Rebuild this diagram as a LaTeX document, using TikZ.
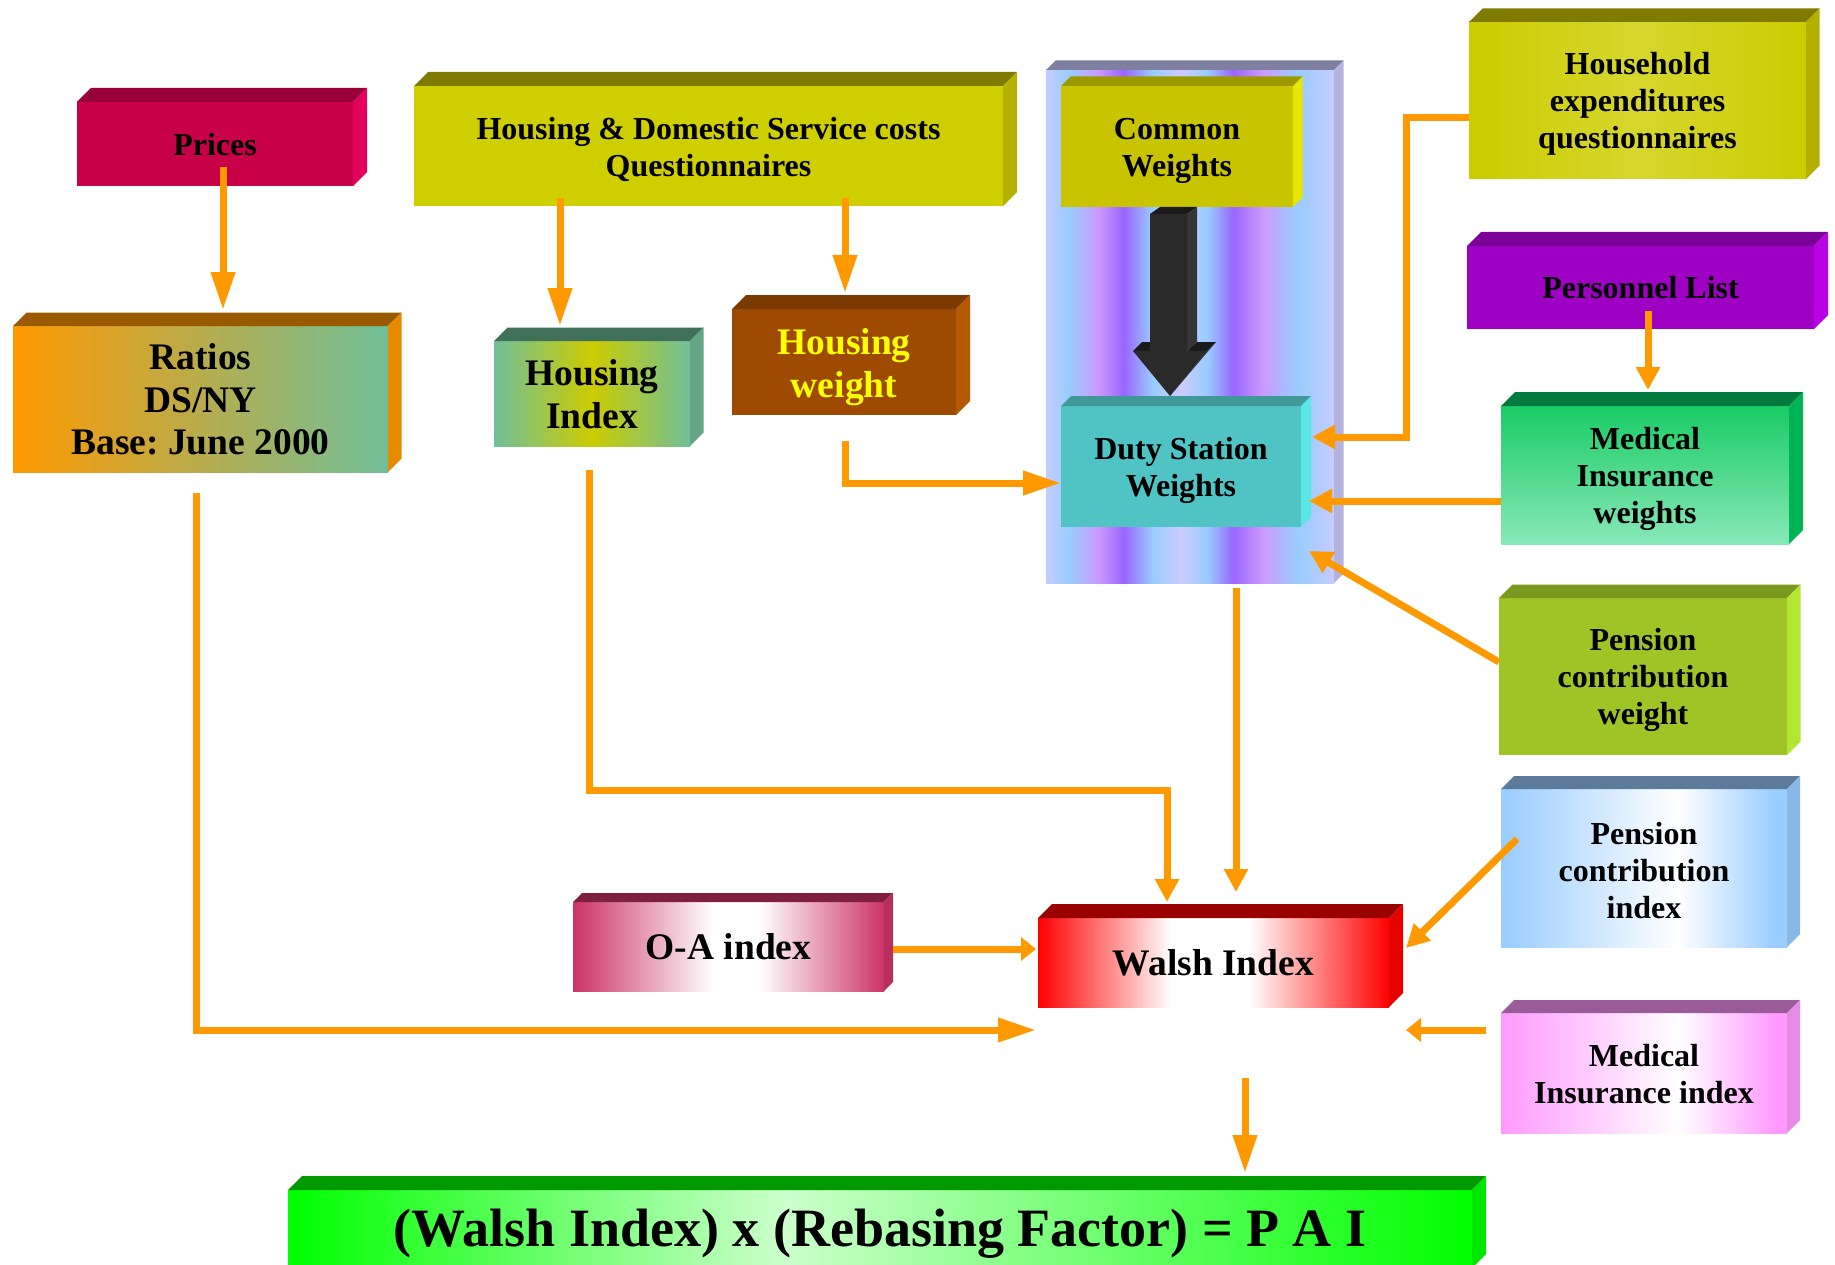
\documentclass[tikz,border=0pt]{standalone}
\usepackage{fontspec}
\setmainfont{Liberation Serif}
\usetikzlibrary{arrows.meta}
\frenchspacing
\definecolor{orA}{HTML}{FF9900}
\definecolor{prF}{HTML}{C70048}\definecolor{prT}{HTML}{99003A}\definecolor{prS}{HTML}{E3005C}
\definecolor{hdF}{HTML}{CFCF00}\definecolor{hdT}{HTML}{7F7A00}\definecolor{hdS}{HTML}{B5B100}
\definecolor{coF}{HTML}{C8C400}\definecolor{coT}{HTML}{9C9800}\definecolor{coS}{HTML}{E6E600}
\definecolor{duF}{HTML}{50C4C4}\definecolor{duT}{HTML}{409999}\definecolor{duS}{HTML}{5CE6E6}
\definecolor{hhA}{HTML}{CCCC00}\definecolor{hhB}{HTML}{D6D62E}\definecolor{hhT}{HTML}{7F7A00}\definecolor{hhS}{HTML}{B3B000}
\definecolor{peF}{HTML}{9E00C4}\definecolor{peT}{HTML}{7A0099}\definecolor{peS}{HTML}{BA00E6}
\definecolor{mwA}{HTML}{1ACC66}\definecolor{mwB}{HTML}{88E8B8}\definecolor{mwT}{HTML}{007A3D}\definecolor{mwS}{HTML}{00B355}
\definecolor{pwF}{HTML}{9EC426}\definecolor{pwT}{HTML}{7A991F}\definecolor{pwS}{HTML}{B3E633}
\definecolor{piA}{HTML}{99CCFF}\definecolor{piT}{HTML}{5C7A99}\definecolor{piS}{HTML}{8AB8E6}
\definecolor{miA}{HTML}{FF99FF}\definecolor{miT}{HTML}{995C99}\definecolor{miS}{HTML}{E68AE6}
\definecolor{waA}{HTML}{FF0000}\definecolor{waT}{HTML}{990000}\definecolor{waS}{HTML}{E60000}
\definecolor{oaA}{HTML}{CC3366}\definecolor{oaT}{HTML}{802040}\definecolor{oaS}{HTML}{B82E5C}
\definecolor{raA}{HTML}{FF9900}\definecolor{raB}{HTML}{70BF99}\definecolor{raT}{HTML}{995A00}\definecolor{raS}{HTML}{E68A00}
\definecolor{hiA}{HTML}{70BF99}\definecolor{hiB}{HTML}{CCCC00}\definecolor{hiT}{HTML}{407059}\definecolor{hiS}{HTML}{63A585}
\definecolor{hwF}{HTML}{9E4A00}\definecolor{hwT}{HTML}{7A3A00}\definecolor{hwS}{HTML}{B35900}
\definecolor{paA}{HTML}{00FF00}\definecolor{paB}{HTML}{CCFFCC}\definecolor{paT}{HTML}{009900}\definecolor{paS}{HTML}{00E600}
\definecolor{cpale}{HTML}{C4CCFF}\definecolor{cblue}{HTML}{99CCFF}\definecolor{cpink}{HTML}{CC99FF}
\definecolor{cpurple}{HTML}{9966FF}\definecolor{cpaleb}{HTML}{CCCCFF}\definecolor{clT}{HTML}{7F7F9F}\definecolor{clS}{HTML}{B3B3DD}
\definecolor{bkF}{HTML}{2A2A2A}\definecolor{bkS}{HTML}{363636}\definecolor{bkT}{HTML}{1A1A1A}
\definecolor{hwtext}{HTML}{FFFF00}
\pgfdeclarehorizontalshading{shWalsh}{100bp}{color(0bp)=(waA); color(25bp)=(waA); color(44bp)=(white); color(55bp)=(white); color(75bp)=(waA); color(100bp)=(waA)}
\pgfdeclarehorizontalshading{shOA}{100bp}{color(0bp)=(oaA); color(25bp)=(oaA); color(47.5bp)=(white); color(55bp)=(white); color(75bp)=(oaA); color(100bp)=(oaA)}
\pgfdeclarehorizontalshading{shPI}{100bp}{color(0bp)=(piA); color(25bp)=(piA); color(56bp)=(white); color(73bp)=(piA); color(100bp)=(piA)}
\pgfdeclarehorizontalshading{shMI}{100bp}{color(0bp)=(miA); color(25bp)=(miA); color(56bp)=(white); color(73bp)=(miA); color(100bp)=(miA)}
\pgfdeclarehorizontalshading{shPAI}{100bp}{color(0bp)=(paA); color(25bp)=(paA); color(46bp)=(paB); color(75bp)=(paA); color(100bp)=(paA)}
\pgfdeclarehorizontalshading{shCol}{100bp}{color(0bp)=(cpale); color(25bp)=(cpale); color(29bp)=(cblue); color(34bp)=(cpink); color(38.5bp)=(cpurple); color(43.5bp)=(cblue); color(48.5bp)=(cpaleb); color(53bp)=(cblue); color(57.5bp)=(cpurple); color(62.5bp)=(cpink); color(68.5bp)=(cblue); color(75bp)=(cpale); color(100bp)=(cpale)}
\newcommand{\boxsides}[4]{%
  \fill[#3] (#1.north west) -- ++(#2,-#2) -- ([shift={(#2,-#2)}]#1.north east) -- (#1.north east) -- cycle;
  \fill[#4] (#1.north east) -- ++(#2,-#2) -- ([shift={(#2,-#2)}]#1.south east) -- (#1.south east) -- cycle;}
% #1 box name, #2 downward shift, #3 style, #4 text
\newcommand{\boxtext}[4]{\node[txt, #3] (#1-t) at ([yshift=-#2pt]#1.center) {#4};}
\begin{document}
\begin{tikzpicture}[x=1pt,y=-1pt,
  face/.style={rectangle, draw=none, inner sep=0pt, outer sep=0pt},
  txt/.style={inner sep=0pt, align=center, text=black},
  smalltxt/.style={font=\bfseries\fontsize{32}{37}\selectfont},
  bigtxt/.style={font=\bfseries\fontsize{37.5}{42.5}\selectfont},
  conn/.style={draw=orA, line width=7pt},
  tipL/.style={-{Triangle[width=23pt,length=38pt]}},
  tipM/.style={-{Triangle[width=23pt,length=23pt]}},
  tipS/.style={-{Triangle[width=23pt,length=15pt]}}]
\useasboundingbox (0,0) rectangle (1835,1265);
% column
\node[face, shade, shading=shCol, minimum width=288pt, minimum height=513pt] (column) at (1190,326.5) {};
\boxsides{column}{9.5}{clT}{clS}
% boxes
\node[face, fill=prF, minimum width=276pt, minimum height=84pt] (prices) at (215,144) {};
\boxsides{prices}{14}{prT}{prS}
\boxtext{prices}{0.5}{smalltxt}{Prices}
\node[face, fill=hdF, minimum width=589pt, minimum height=120pt] (hdsc) at (708.5,146) {};
\boxsides{hdsc}{14}{hdT}{hdS}
\boxtext{hdsc}{3}{smalltxt}{Housing \& Domestic Service costs\\Questionnaires}
\node[face, fill=coF, minimum width=232pt, minimum height=121pt] (common) at (1177,146.5) {};
\boxsides{common}{9.5}{coT}{coS}
\boxtext{common}{4}{smalltxt}{Common\\Weights}
\node[face, fill=duF, minimum width=240pt, minimum height=121pt] (duty) at (1181,466.5) {};
\boxsides{duty}{10}{duT}{duS}
\boxtext{duty}{3.5}{smalltxt}{Duty Station\\Weights}
\node[face, left color=hhA, right color=hhA, middle color=hhB, minimum width=337pt, minimum height=157pt] (household) at (1637.5,100.5) {};
\boxsides{household}{13.5}{hhT}{hhS}
\boxtext{household}{3.5}{smalltxt}{Household\\expenditures\\questionnaires}
\node[face, fill=peF, minimum width=347pt, minimum height=83pt] (personnel) at (1640.5,287.5) {};
\boxsides{personnel}{14}{peT}{peS}
\boxtext{personnel}{0}{smalltxt}{Personnel List}
\node[face, top color=mwA, bottom color=mwB, minimum width=288pt, minimum height=138pt] (miw) at (1645,475) {};
\boxsides{miw}{14}{mwT}{mwS}
\boxtext{miw}{4}{smalltxt}{Medical\\Insurance\\weights}
\node[face, fill=pwF, minimum width=288pt, minimum height=157pt] (pcw) at (1643,676.5) {};
\boxsides{pcw}{13.5}{pwT}{pwS}
\boxtext{pcw}{3.5}{smalltxt}{Pension\\contribution\\weight}
\node[face, shade, shading=shPI, minimum width=286pt, minimum height=158pt] (pci) at (1644,868) {};
\boxsides{pci}{13}{piT}{piS}
\boxtext{pci}{2.5}{smalltxt}{Pension\\contribution\\index}
\node[face, shade, shading=shMI, minimum width=286pt, minimum height=120pt] (mii) at (1644,1073) {};
\boxsides{mii}{13}{miT}{miS}
\boxtext{mii}{1.5}{smalltxt}{Medical\\Insurance index}
\node[face, shade, shading=shWalsh, minimum width=351pt, minimum height=89pt] (walsh) at (1213.5,962.5) {};
\boxsides{walsh}{14}{waT}{waS}
\boxtext{walsh}{0}{bigtxt}{Walsh Index}
\node[face, shade, shading=shOA, minimum width=311pt, minimum height=89pt] (oa) at (728.5,946.5) {};
\boxsides{oa}{9}{oaT}{oaS}
\boxtext{oa}{0}{bigtxt}{O-A index}
\node[face, left color=raA, right color=raB, minimum width=375pt, minimum height=146pt] (ratios) at (200.5,399) {};
\boxsides{ratios}{13.5}{raT}{raS}
\boxtext{ratios}{0.5}{bigtxt}{Ratios\\DS/NY\\Base: June 2000}
\node[face, left color=hiA, right color=hiA, middle color=hiB, minimum width=196pt, minimum height=105pt] (hidx) at (592,393.5) {};
\boxsides{hidx}{13.5}{hiT}{hiS}
\boxtext{hidx}{0.5}{bigtxt}{Housing\\Index}
\node[face, fill=hwF, minimum width=224pt, minimum height=106pt] (hw) at (844,362) {};
\boxsides{hw}{14}{hwT}{hwS}
\boxtext{hw}{5}{bigtxt, text=hwtext}{Housing\\weight}
\node[face, shade, shading=shPAI, minimum width=1184pt, minimum height=78pt] (pai) at (880,1229) {};
\boxsides{pai}{14}{paT}{paS}
\node[txt, font=\bfseries\fontsize{54}{60}\selectfont] (pai-t) at (880,1234) {(Walsh Index) x (Rebasing Factor) = P A I};
% black 3D arrow
\fill[bkT] (1133,351) -- (1142,342) -- (1160,342) -- (1150,351) -- cycle;
\fill[bkT] (1187,351) -- (1197,342) -- (1216,342) -- (1207,351) -- cycle;
\fill[bkT] (1150,214) -- (1160,207) -- (1197,207) -- (1187,214) -- cycle;
\fill[bkS] (1187,214) -- (1197,207) -- (1197,342) -- (1187,351) -- cycle;
\fill[bkS] (1207,351) -- (1216,342) -- (1170,396) -- cycle;
\fill[bkF] (1150,214) -- (1187,214) -- (1187,351) -- (1207,351) -- (1170,396) -- (1133,351) -- (1150,351) -- cycle;
% connector end points
\coordinate (a1s) at (223,167);   \coordinate (a1e) at (223,310);
\coordinate (a2s) at (560,198);   \coordinate (a2e) at (560,326);
\coordinate (a3s) at (845,198);   \coordinate (a3e) at (845,293);
\coordinate (a4s) at (845,441);   \coordinate (a4m) at (845,483);
\coordinate (a5m1) at (1406,117.5); \coordinate (a5m2) at (1406,437); \coordinate (a5e) at (1312,437);
\coordinate (a6s) at (1648,311);  \coordinate (a6e) at (1648,390);
\coordinate (a7e) at (1309,501);
\coordinate (a8s) at (1499,662);  \coordinate (a8e) at (1309,551);
\coordinate (a9s) at (1236,588);  \coordinate (a9e) at (1236,892);
\coordinate (a10s) at (589,470);  \coordinate (a10m1) at (589,790); \coordinate (a10m2) at (1167,790); \coordinate (a10e) at (1167,902);
\coordinate (a11s) at (196.5,493); \coordinate (a11m) at (196.5,1030); \coordinate (a11e) at (1036,1030);
\coordinate (a12e) at (1036,949);
\coordinate (a13s) at (1517,839); \coordinate (a13e) at (1406,948);
\coordinate (a14s) at (1486,1030); \coordinate (a14e) at (1406,1030);
\coordinate (a15s) at (1245,1078); \coordinate (a15e) at (1245,1173);
% connectors
\draw[conn, tipL] (a1s) -- (a1e);
\draw[conn, tipL] (a2s) -- (a2e);
\draw[conn, tipL] (a3s) -- (a3e);
\draw[conn, tipL] (a4s) -- (a4m) -- (duty.west |- a4m);
\draw[conn, tipM] (household.west |- a5m1) -- (a5m1) -- (a5m2) -- (a5e);
\draw[conn, tipM] (a6s) -- (a6e);
\draw[conn, tipM] (miw.west |- a7e) -- (a7e);
\draw[conn, tipM] (a8s) -- (a8e);
\draw[conn, tipM] (a9s) -- (a9e);
\draw[conn, tipM] (a10s) -- (a10m1) -- (a10m2) -- (a10e);
\draw[conn, tipL] (a11s) -- (a11m) -- (a11e);
\draw[conn, tipS] ([xshift=9pt]oa.east |- a12e) -- (a12e);
\draw[conn, tipM] (a13s) -- (a13e);
\draw[conn, tipS] (a14s) -- (a14e);
\draw[conn, tipL] (a15s) -- (a15e);
\end{tikzpicture}
\end{document}
